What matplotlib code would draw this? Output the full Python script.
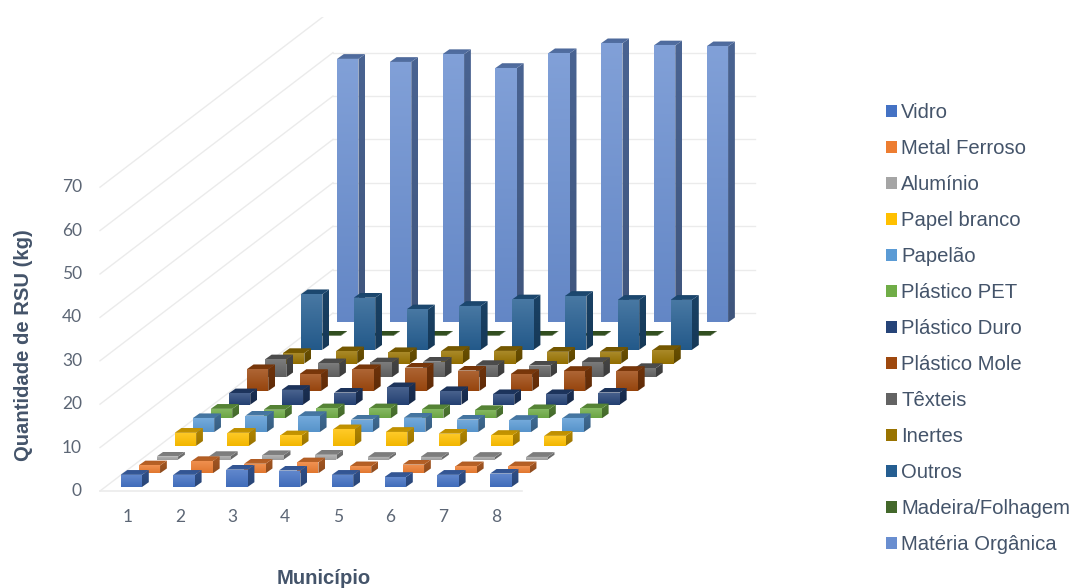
import numpy as np
import matplotlib
matplotlib.use("Agg")
import matplotlib.pyplot as plt
from matplotlib.colors import to_rgb
from matplotlib.patches import Patch, Polygon, Rectangle

municipios = ["1", "2", "3", "4", "5", "6", "7", "8"]
niveis = [0, 10, 20, 30, 40, 50, 60, 70]

vidro = [2.8, 2.8, 4.0, 3.8, 2.8, 2.3, 2.8, 3.1]
metal_ferroso = [1.8, 2.8, 2.2, 2.5, 1.6, 2.0, 1.6, 1.6]
aluminio = [0.7, 0.8, 1.0, 1.1, 0.6, 0.6, 0.6, 0.6]
papel_branco = [3.0, 3.0, 2.4, 3.8, 3.2, 2.8, 2.5, 2.3]
papelao = [3.2, 3.8, 3.7, 2.9, 3.3, 2.9, 2.8, 3.2]
plastico_pet = [2.2, 2.0, 2.3, 2.3, 2.1, 1.9, 2.1, 2.3]
plastico_duro = [2.6, 3.4, 2.8, 4.0, 3.1, 2.4, 2.4, 2.8]
plastico_mole = [5.0, 3.9, 5.0, 5.4, 4.7, 3.9, 4.6, 4.6]
texteis = [4.1, 3.2, 3.4, 3.6, 2.8, 2.7, 3.5, 2.1]
inertes = [2.4, 2.8, 2.6, 2.9, 2.9, 2.7, 2.7, 3.1]
outros = [12.8, 12.0, 9.3, 10.1, 11.6, 12.4, 11.5, 11.5]
madeira_folhagem = [0.1, 0.1, 0.1, 0.1, 0.1, 0.1, 0.1, 0.1]
materia_organica = [60.7, 60.0, 61.8, 58.6, 62.0, 64.3, 63.8, 63.6]

series = [
    ("Vidro", vidro, "#4472C4"),
    ("Metal Ferroso", metal_ferroso, "#ED7D31"),
    ("Alumínio", aluminio, "#A5A5A5"),
    ("Papel branco", papel_branco, "#FFC000"),
    ("Papelão", papelao, "#5B9BD5"),
    ("Plástico PET", plastico_pet, "#70AD47"),
    ("Plástico Duro", plastico_duro, "#264478"),
    ("Plástico Mole", plastico_mole, "#9E480E"),
    ("Têxteis", texteis, "#636363"),
    ("Inertes", inertes, "#997300"),
    ("Outros", outros, "#255E91"),
    ("Madeira/Folhagem", madeira_folhagem, "#43682B"),
    ("Matéria Orgânica", materia_organica, "#698ED0"),
]

# Oblique projection, in figure pixels
KG = 4.34            # vertical pixels per kg
CAT_DX = 52.8        # step between municipalities
SER_DX, SER_DY = 18.04, 13.72   # step between series along the depth axis
BAR_W = 21.5
BAR_DX, BAR_DY = 6.8, 4.8       # bar thickness along the depth axis
BAR_X0, BAR_Y0 = 120.5, 487.0
FLOOR_X0, FLOOR_X1, FLOOR_Y = 100.0, 522.0, 491.0
WALL_DX, WALL_DY = 233.0, 178.0

GRID = "#EBEBEB"
TICK = "#5C6675"
TITLE = "#44546A"

fig = plt.figure(figsize=(10.75, 5.88), dpi=100)
ax = fig.add_axes([0, 0, 1, 1])
ax.set_axis_off()
ax.set_autoscale_on(False)
ax.set_xlim(0, 1075)
ax.set_ylim(588, 0)


def shade(color, factor):
    """Darken (factor < 1) or lighten (factor > 1) an RGB colour."""
    rgb = np.array(to_rgb(color))
    if factor <= 1:
        return rgb * factor
    return rgb + (1 - rgb) * (factor - 1)


def gradient_face(points, top, bottom, z):
    """Fill a polygon with a vertical gradient running from top to bottom."""
    pts = np.array(points)
    xs, ys = pts[:, 0], pts[:, 1]
    ramp = np.linspace(0, 1, 32)[:, None, None]
    img = (1 - ramp) * np.array(top)[None, None, :] + ramp * np.array(bottom)[None, None, :]
    im = ax.imshow(img, extent=(xs.min(), xs.max(), ys.max(), ys.min()),
                   aspect="auto", interpolation="bilinear", origin="upper", zorder=z)
    im.set_clip_path(Polygon(pts, closed=True, transform=ax.transData))


# Gridlines on the floor, side wall and back wall; the plot area stops at y = 17
clip = Rectangle((0, 17), 1075, 571, transform=ax.transData)
for nivel in niveis:
    h = nivel * KG
    linha, = ax.plot([FLOOR_X0, FLOOR_X0 + WALL_DX],
                     [FLOOR_Y - h, FLOOR_Y - WALL_DY - h],
                     color=GRID, lw=1.0, zorder=1)
    linha.set_clip_path(clip)
    if FLOOR_Y - WALL_DY - h > 17:
        ax.plot([FLOOR_X0 + WALL_DX, FLOOR_X1 + WALL_DX],
                [FLOOR_Y - WALL_DY - h] * 2, color=GRID, lw=1.0, zorder=1)
ax.plot([FLOOR_X0, FLOOR_X1], [FLOOR_Y, FLOOR_Y], color=GRID, lw=1.2, zorder=1)

# Bars, drawn from the back row to the front row
z = 2
for s in range(len(series) - 1, -1, -1):
    nome, valores, cor = series[s]
    for c, valor in enumerate(valores):
        x = BAR_X0 + CAT_DX * c + SER_DX * s
        base = BAR_Y0 - SER_DY * s
        topo = base - valor * KG
        right = x + BAR_W
        gradient_face([(x, base), (right, base), (right, topo), (x, topo)],
                      shade(cor, 1.16), shade(cor, 0.95), z)
        gradient_face([(right, base), (right + BAR_DX, base - BAR_DY),
                       (right + BAR_DX, topo - BAR_DY), (right, topo)],
                      shade(cor, 0.70), shade(cor, 0.60), z + 1)
        gradient_face([(x, topo), (right, topo), (right + BAR_DX, topo - BAR_DY),
                       (x + BAR_DX, topo - BAR_DY)],
                      shade(cor, 0.74), shade(cor, 0.78), z + 1)
        z += 2

# Tick labels
for nivel in niveis:
    ax.text(82, FLOOR_Y - nivel * KG, str(nivel), ha="right", va="center",
            family="Lato", fontsize=12.5, color=TICK)
for c, rotulo in enumerate(municipios):
    ax.text(127.5 + 52.6 * c, 517, rotulo, ha="center", va="center",
            family="Lato", fontsize=12.5, color=TICK)

# Axis titles
ax.text(324, 578, "Município", ha="center", va="center", family="Liberation Sans",
        fontsize=14.6, fontweight="bold", color=TITLE)
ax.text(24, 345, "Quantidade de RSU (kg)", ha="center", va="center", rotation=90,
        family="Liberation Sans", fontsize=14.6, fontweight="bold", color=TITLE)

# Legend
handles = [Patch(facecolor=cor, edgecolor="none", label=nome) for nome, _, cor in series]
fig.legend(handles=handles, loc="upper left", bbox_to_anchor=(886 / 1075, 1 - 103 / 588),
           frameon=False, ncol=1, prop={"family": "Liberation Sans", "size": 14.6},
           labelcolor=TITLE, handlelength=0.55, handleheight=0.55, handletextpad=0.2,
           labelspacing=0.84, borderpad=0, borderaxespad=0)

fig.savefig("out.png", dpi=100)
